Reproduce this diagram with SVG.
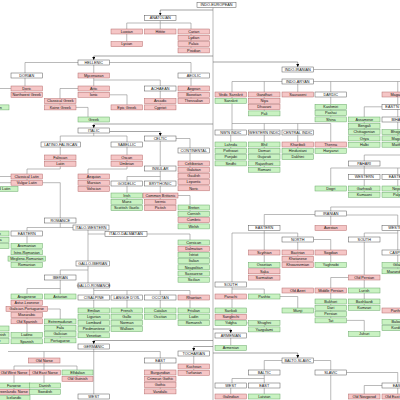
<svg xmlns="http://www.w3.org/2000/svg" width="400" height="400" viewBox="0 0 400 400">
<style>
.w rect{fill:#fff;stroke:#555;stroke-width:.5}
.p rect{fill:#f5c6c6;stroke:#b56b6b;stroke-width:.5}
.g rect{fill:#c9f2c2;stroke:#6aa86a;stroke-width:.5}
text{font-family:"Liberation Sans",Arial,sans-serif;font-size:3.8px;text-anchor:middle;fill:#111}
#edges path{fill:none;stroke:#8c8c8c;stroke-width:.6}
#edges path.a{stroke:#666}
</style>
<defs>
<marker id="ar" viewBox="0 0 6 6" refX="6" refY="3" markerWidth="3" markerHeight="3" markerUnits="userSpaceOnUse" orient="auto"><path d="M0,0 L6,3 L0,6 z" fill="#000"/></marker>
</defs>
<rect width="400" height="400" fill="#fff"/>
<g id="edges">
<path d="M213,7.5 V400"/>
<path class="a" d="M213,10 H160.25 V15.5" marker-end="url(#ar)"/>
<path class="a" d="M213,56 H93.75 V60" marker-end="url(#ar)"/>
<path class="a" d="M213,62 H297.75 V67" marker-end="url(#ar)"/>
<path class="a" d="M213,124 H93.75 V128" marker-end="url(#ar)"/>
<path class="a" d="M109.5,131.5 H160.25 V136" marker-end="url(#ar)"/>
<path class="a" d="M213,329 H230.75 V333" marker-end="url(#ar)"/>
<path class="a" d="M213,340.5 H93.75 V344" marker-end="url(#ar)"/>
<path class="a" d="M213,346.5 H193.75 V351" marker-end="url(#ar)"/>
<path class="a" d="M213,353 H297.75 V358" marker-end="url(#ar)"/>
<path d="M160.25,20.5 V29 M126.75,23 H191 M126.75,23 V41.6 M191,23 V47.9"/>
<path d="M25,62.5 H191 M25,62.5 V92.3 M93.75,65 V92.3 M191,62.5 V98.6 M93.75,80 H160.25 V104.9 M78,88.5 H60 V104.9 M76,107.4 H88 V117 M109.5,94.8 H127 V104.9 M0,88.5 H11"/>
<path d="M313.5,69.5 H400 M232,81.5 H400 M232,81.5 V98.3 M264.25,81.5 V110.9 M297.75,84 V92 M330.75,81.5 V116.9 M397.75,81.5 V117 M382,106.8 H364.25 V142.2 M397.75,122 V142.2"/>
<path d="M232,103.3 V130 M232,123.5 H330.75 M264.25,123.5 V130 M297.75,123.5 V130 M330.75,123.5 V148.3 M230.75,135 V160.9 M264.25,135 V167.2 M297.75,135 V154.6"/>
<path d="M364.25,155 H400 M364.25,155 V161 M330.75,168 H400 M330.75,168 V186 M364.25,166 V192.3 M397.75,168 V192.3"/>
<path d="M330.75,207 H400 M330.75,207 V225.5 M315,214.5 H264.25 V225.5 M346.5,215 H397.75 V268.8"/>
<path d="M264.25,230.5 V275.1 M232,233 H297.75 M232,233 V320.6 M297.75,233 V262.6 M313.5,239.5 H330.75 V262.5 M364.25,233 H397.75 M364.25,233 V275 M348.5,277.5 H330.75 V317.9 M364.25,280 V305.3 M346.5,320.4 H364.25 V331.5"/>
<path d="M232,289 H264.25 V294 M246.5,322.9 H248.5 M264.25,325 V326.9 M280,296.5 H297.75 V308"/>
<path d="M230.75,338 V345.5 M282,360.5 H264.25 V370 M313.5,360.5 H330.75 V370 M264.25,375 V383 M232,378.5 H264.25 M232,378.5 V383 M230.75,388 V394 M264.25,388 V394 M346.5,372.5 H397.75 V383 M330.75,375 V400 M382,385.5 H364.25 V394 M397.75,388 V394"/>
<path d="M193.75,356 V370.3"/>
<path d="M93.75,133 V136 M60.25,136 H127 M60.25,136 V161.2 M127,136 V169 H88 V186.4 M60.25,166 V169 H27 V180.2 M0,176.5 H11 M0,182.7 H11 M42.5,182.7 H60.25 V218"/>
<path d="M176,138.5 H190 V185.8 M160.25,141 V181 M127,176.5 H160.25 M127,176.5 V205.6 M160.25,186 V205.6 M177,195.5 H190 V223.9"/>
<path d="M60.25,223 V227.5 M27,227.5 H73 M27,227.5 V262.4 M88,230 V283 M88,234 H105 M147,234 H190 V277.2 M60.25,270 H88 M60.25,270 V275"/>
<path d="M60.25,280 V294 M27,288.5 H60.25 M27,288.5 V338.8 M47,309 H60.25 V337.9"/>
<path d="M93.75,288 V332.8 M93.75,290.5 H190 M127,290.5 V326.6 M160.25,290.5 V314.2 M190,290.5 V320.4"/>
<path d="M93.75,349 V394 M8,351.5 H160.25 M44,351.5 V358 M160.25,351.5 V388.9 M44,363 V389.3 M14,366 H77 M14,366 V395.6 M77,366 V376.3"/>
</g>
<g id="indo-european" class="w"><rect x="197" y="2.5" width="39" height="5"/><text x="216.5" y="6.25">INDO-EUROPEAN</text></g>
<g id="anatolian" class="w"><rect x="144.5" y="15.5" width="31.5" height="5"/><text x="160.25" y="19.25">ANATOLIAN</text></g>
<g id="luwian" class="p"><rect x="111" y="29" width="31.5" height="5"/><text x="126.75" y="32.75">Luwian</text></g>
<g id="hittite" class="p"><rect x="144.5" y="29" width="31.5" height="5"/><text x="160.25" y="32.75">Hittite</text></g>
<g id="carian" class="p"><rect x="178" y="29" width="31.5" height="5"/><text x="193.75" y="32.75">Carian</text></g>
<g id="lydian" class="p"><rect x="178" y="35.3" width="31.5" height="5"/><text x="193.75" y="39.05">Lydian</text></g>
<g id="palaic" class="p"><rect x="178" y="41.6" width="31.5" height="5"/><text x="193.75" y="45.35">Palaic</text></g>
<g id="pisidian" class="p"><rect x="178" y="47.9" width="31.5" height="5"/><text x="193.75" y="51.65">Pisidian</text></g>
<g id="lycian" class="p"><rect x="111" y="41.6" width="31.5" height="5"/><text x="126.75" y="45.35">Lycian</text></g>
<g id="hellenic" class="w"><rect x="78" y="60" width="31.5" height="5"/><text x="93.75" y="63.75">HELLENIC</text></g>
<g id="dorian" class="w"><rect x="11" y="73" width="31.5" height="5"/><text x="26.75" y="76.75">DORIAN</text></g>
<g id="mycenaean" class="p"><rect x="78" y="73" width="31.5" height="5"/><text x="93.75" y="76.75">Mycenaean</text></g>
<g id="aeolic" class="w"><rect x="178" y="73" width="31.5" height="5"/><text x="193.75" y="76.75">AEOLIC</text></g>
<g id="doric" class="p"><rect x="11" y="86" width="31.5" height="5"/><text x="26.75" y="89.75">Doric</text></g>
<g id="nwgreek" class="p"><rect x="11" y="92.3" width="31.5" height="5"/><text x="26.75" y="96.05">Northwest Greek</text></g>
<g id="attic" class="p"><rect x="78" y="86" width="31.5" height="5"/><text x="93.75" y="89.75">Attic</text></g>
<g id="ionic" class="p"><rect x="78" y="92.3" width="31.5" height="5"/><text x="93.75" y="96.05">Ionic</text></g>
<g id="achaean" class="w"><rect x="144.5" y="86" width="31.5" height="5"/><text x="160.25" y="89.75">ACHAEAN</text></g>
<g id="aegean" class="p"><rect x="178" y="86" width="31.5" height="5"/><text x="193.75" y="89.75">Aegean</text></g>
<g id="boeotian" class="p"><rect x="178" y="92.3" width="31.5" height="5"/><text x="193.75" y="96.05">Boeotian</text></g>
<g id="thessalian" class="p"><rect x="178" y="98.6" width="31.5" height="5"/><text x="193.75" y="102.35">Thessalian</text></g>
<g id="classgreek" class="p"><rect x="44.5" y="98.6" width="31.5" height="5"/><text x="60.25" y="102.35">Classical Greek</text></g>
<g id="koine" class="p"><rect x="44.5" y="104.9" width="31.5" height="5"/><text x="60.25" y="108.65">Koine Greek</text></g>
<g id="arcadic" class="p"><rect x="144.5" y="98.6" width="31.5" height="5"/><text x="160.25" y="102.35">Arcadic</text></g>
<g id="cypriot" class="p"><rect x="144.5" y="104.9" width="31.5" height="5"/><text x="160.25" y="108.65">Cypriot</text></g>
<g id="epic" class="p"><rect x="111" y="104.9" width="31.5" height="5"/><text x="126.75" y="108.65">Epic Greek</text></g>
<g id="greek" class="g"><rect x="78" y="117" width="31.5" height="5"/><text x="93.75" y="120.75">Greek</text></g>
<g id="tsakonian" class="g"><rect x="-22.5" y="104.9" width="31.5" height="5"/><text x="-6.75" y="108.65">Tsakonian</text></g>
<g id="italic" class="w"><rect x="78" y="128" width="31.5" height="5"/><text x="93.75" y="131.75">ITALIC</text></g>
<g id="celtic" class="w"><rect x="144.5" y="136" width="31.5" height="5"/><text x="160.25" y="139.75">CELTIC</text></g>
<g id="latino-faliscan" class="w"><rect x="41" y="142" width="39.5" height="5"/><text x="60.75" y="145.75">LATINO-FALISCAN</text></g>
<g id="sabellic" class="w"><rect x="111" y="142" width="31.5" height="5"/><text x="126.75" y="145.75">SABELLIC</text></g>
<g id="faliscan" class="p"><rect x="44.5" y="155" width="31.5" height="5"/><text x="60.25" y="158.75">Faliscan</text></g>
<g id="latin" class="p"><rect x="44.5" y="161.2" width="31.5" height="5"/><text x="60.25" y="164.95">Latin</text></g>
<g id="oscan" class="p"><rect x="111" y="155" width="31.5" height="5"/><text x="126.75" y="158.75">Oscan</text></g>
<g id="umbrian" class="p"><rect x="111" y="161.2" width="31.5" height="5"/><text x="126.75" y="164.95">Umbrian</text></g>
<g id="classlatin" class="p"><rect x="11" y="174" width="31.5" height="5"/><text x="26.75" y="177.75">Classical Latin</text></g>
<g id="vulglatin" class="p"><rect x="11" y="180.2" width="31.5" height="5"/><text x="26.75" y="183.95">Vulgar Latin</text></g>
<g id="medlatin" class="g"><rect x="-22" y="186.4" width="40" height="5"/><text x="-2" y="190.15">Medieval Latin</text></g>
<g id="aequian" class="p"><rect x="78" y="174" width="31.5" height="5"/><text x="93.75" y="177.75">Aequian</text></g>
<g id="marsian" class="p"><rect x="78" y="180.2" width="31.5" height="5"/><text x="93.75" y="183.95">Marsian</text></g>
<g id="volscian" class="p"><rect x="78" y="186.4" width="31.5" height="5"/><text x="93.75" y="190.15">Volscian</text></g>
<g id="continental" class="w"><rect x="178" y="148" width="31.5" height="5"/><text x="193.75" y="151.75">CONTINENTAL</text></g>
<g id="celtiberian" class="p"><rect x="178" y="161" width="31.5" height="5"/><text x="193.75" y="164.75">Celtiberian</text></g>
<g id="galatian" class="p"><rect x="178" y="167.2" width="31.5" height="5"/><text x="193.75" y="170.95">Galatian</text></g>
<g id="gaulish" class="p"><rect x="178" y="173.4" width="31.5" height="5"/><text x="193.75" y="177.15">Gaulish</text></g>
<g id="lepontic" class="p"><rect x="178" y="179.6" width="31.5" height="5"/><text x="193.75" y="183.35">Lepontic</text></g>
<g id="noric" class="p"><rect x="178" y="185.8" width="31.5" height="5"/><text x="193.75" y="189.55">Noric</text></g>
<g id="insular" class="w"><rect x="144.5" y="166" width="31.5" height="5"/><text x="160.25" y="169.75">INSULAR</text></g>
<g id="goidelic" class="w"><rect x="111" y="181" width="31.5" height="5"/><text x="126.75" y="184.75">GOIDELIC</text></g>
<g id="brythonic" class="w"><rect x="144.5" y="181" width="31.5" height="5"/><text x="160.25" y="184.75">BRYTHONIC</text></g>
<g id="irish" class="g"><rect x="111" y="193" width="31.5" height="5"/><text x="126.75" y="196.75">Irish</text></g>
<g id="manx" class="g"><rect x="111" y="199.3" width="31.5" height="5"/><text x="126.75" y="203.05">Manx</text></g>
<g id="scottish" class="g"><rect x="111" y="205.6" width="31.5" height="5"/><text x="126.75" y="209.35">Scottish Gaelic</text></g>
<g id="combrit" class="p"><rect x="143" y="193" width="35" height="5"/><text x="160.5" y="196.75">Common Brittonic</text></g>
<g id="ivernic" class="p"><rect x="144.5" y="199.3" width="31.5" height="5"/><text x="160.25" y="203.05">Ivernic</text></g>
<g id="pictish" class="p"><rect x="144.5" y="205.6" width="31.5" height="5"/><text x="160.25" y="209.35">Pictish</text></g>
<g id="breton" class="g"><rect x="178" y="205" width="31.5" height="5"/><text x="193.75" y="208.75">Breton</text></g>
<g id="cornish" class="g"><rect x="178" y="211.3" width="31.5" height="5"/><text x="193.75" y="215.05">Cornish</text></g>
<g id="cumbric" class="p"><rect x="178" y="217.6" width="31.5" height="5"/><text x="193.75" y="221.35">Cumbric</text></g>
<g id="welsh" class="g"><rect x="178" y="223.9" width="31.5" height="5"/><text x="193.75" y="227.65">Welsh</text></g>
<g id="romance" class="w"><rect x="44.5" y="218" width="31.5" height="5"/><text x="60.25" y="221.75">ROMANCE</text></g>
<g id="italo-western" class="w"><rect x="73" y="225" width="36" height="5"/><text x="91" y="228.75">ITALO-WESTERN</text></g>
<g id="eastern-romance" class="w"><rect x="11" y="231" width="31.5" height="5"/><text x="26.75" y="234.75">EASTERN</text></g>
<g id="italo-dalmatian" class="w"><rect x="105" y="231.5" width="42" height="5"/><text x="126" y="235.25">ITALO-DALMATIAN</text></g>
<g id="left-a1" class="g"><rect x="-22.5" y="231" width="31.5" height="5"/><text x="-6.75" y="234.75">Arbëresh</text></g>
<g id="left-a2" class="g"><rect x="-22.5" y="237.3" width="31.5" height="5"/><text x="-6.75" y="241.05">Arvanitika</text></g>
<g id="left-a3" class="g"><rect x="-22.5" y="243.6" width="31.5" height="5"/><text x="-6.75" y="247.35">Gheg</text></g>
<g id="aromanian" class="g"><rect x="11" y="243.5" width="31.5" height="5"/><text x="26.75" y="247.25">Aromanian</text></g>
<g id="istro" class="g"><rect x="11" y="249.8" width="31.5" height="5"/><text x="26.75" y="253.55">Istro-Romanian</text></g>
<g id="megleno" class="g"><rect x="8" y="256.1" width="37.5" height="5"/><text x="26.75" y="259.85">Megleno-Romanian</text></g>
<g id="romanian" class="g"><rect x="11" y="262.4" width="31.5" height="5"/><text x="26.75" y="266.15">Romanian</text></g>
<g id="corsican" class="g"><rect x="178" y="240" width="31.5" height="5"/><text x="193.75" y="243.75">Corsican</text></g>
<g id="dalmatian" class="p"><rect x="178" y="246.2" width="31.5" height="5"/><text x="193.75" y="249.95">Dalmatian</text></g>
<g id="istriot" class="g"><rect x="178" y="252.4" width="31.5" height="5"/><text x="193.75" y="256.15">Istriot</text></g>
<g id="italian" class="g"><rect x="178" y="258.6" width="31.5" height="5"/><text x="193.75" y="262.35">Italian</text></g>
<g id="neapolitan" class="g"><rect x="178" y="264.8" width="31.5" height="5"/><text x="193.75" y="268.55">Neapolitan</text></g>
<g id="sassarese" class="g"><rect x="178" y="271" width="31.5" height="5"/><text x="193.75" y="274.75">Sassarese</text></g>
<g id="sicilian" class="g"><rect x="178" y="277.2" width="31.5" height="5"/><text x="193.75" y="280.95">Sicilian</text></g>
<g id="gallo-iberian" class="w"><rect x="76" y="261" width="33.5" height="5"/><text x="92.75" y="264.75">GALLO-IBERIAN</text></g>
<g id="iberian" class="w"><rect x="44.5" y="275" width="31.5" height="5"/><text x="60.25" y="278.75">IBERIAN</text></g>
<g id="gallo-romance" class="w"><rect x="78" y="283" width="31.5" height="5"/><text x="93.75" y="286.75">GALLO-ROMANCE</text></g>
<g id="aragonese" class="g"><rect x="11" y="294" width="31.5" height="5"/><text x="26.75" y="297.75">Aragonese</text></g>
<g id="asturian" class="g"><rect x="44.5" y="294" width="31.5" height="5"/><text x="60.25" y="297.75">Asturian</text></g>
<g id="asturleonese" class="p"><rect x="11" y="300.2" width="31.5" height="5"/><text x="26.75" y="303.95">Astur-Leonese</text></g>
<g id="galport" class="p"><rect x="6" y="306.4" width="41.5" height="5"/><text x="26.75" y="310.15">Galician-Portuguese</text></g>
<g id="mozarabic" class="p"><rect x="11" y="312.6" width="31.5" height="5"/><text x="26.75" y="316.35">Mozarabic</text></g>
<g id="oldspanish" class="p"><rect x="11" y="318.8" width="31.5" height="5"/><text x="26.75" y="322.55">Old Spanish</text></g>
<g id="left-b1" class="g"><rect x="-22.5" y="326" width="31.5" height="5"/><text x="-6.75" y="329.75">Arpitan</text></g>
<g id="left-b2" class="g"><rect x="-22.5" y="332.3" width="31.5" height="5"/><text x="-6.75" y="336.05">Judeo-Spanish</text></g>
<g id="left-b3" class="g"><rect x="-22.5" y="338.6" width="31.5" height="5"/><text x="-6.75" y="342.35">Leonese</text></g>
<g id="ladino" class="g"><rect x="11" y="332.5" width="31.5" height="5"/><text x="26.75" y="336.25">Ladino</text></g>
<g id="spanish" class="g"><rect x="11" y="338.8" width="31.5" height="5"/><text x="26.75" y="342.55">Spanish</text></g>
<g id="extremaduran" class="g"><rect x="44.5" y="319" width="31.5" height="5"/><text x="60.25" y="322.75">Extremaduran</text></g>
<g id="fala" class="g"><rect x="44.5" y="325.3" width="31.5" height="5"/><text x="60.25" y="329.05">Fala</text></g>
<g id="galician" class="g"><rect x="44.5" y="331.6" width="31.5" height="5"/><text x="60.25" y="335.35">Galician</text></g>
<g id="portuguese" class="g"><rect x="44.5" y="337.9" width="31.5" height="5"/><text x="60.25" y="341.65">Portuguese</text></g>
<g id="cisalpine" class="w"><rect x="78" y="295" width="31.5" height="5"/><text x="93.75" y="298.75">CISALPINE</text></g>
<g id="langue-doil" class="w"><rect x="111" y="295" width="31.5" height="5"/><text x="126.75" y="298.75">LANGUE D'OÏL</text></g>
<g id="occitan-group" class="w"><rect x="144.5" y="295" width="31.5" height="5"/><text x="160.25" y="298.75">OCCITAN</text></g>
<g id="rhaetian" class="p"><rect x="178" y="295" width="31.5" height="5"/><text x="193.75" y="298.75">Rhaetian</text></g>
<g id="emilian" class="g"><rect x="78" y="308" width="31.5" height="5"/><text x="93.75" y="311.75">Emilian</text></g>
<g id="ligurian" class="g"><rect x="78" y="314.2" width="31.5" height="5"/><text x="93.75" y="317.95">Ligurian</text></g>
<g id="lombard" class="g"><rect x="78" y="320.4" width="31.5" height="5"/><text x="93.75" y="324.15">Lombard</text></g>
<g id="piedmontese" class="g"><rect x="78" y="326.6" width="31.5" height="5"/><text x="93.75" y="330.35">Piedmontese</text></g>
<g id="venetian" class="g"><rect x="78" y="332.8" width="31.5" height="5"/><text x="93.75" y="336.55">Venetian</text></g>
<g id="french" class="g"><rect x="111" y="308" width="31.5" height="5"/><text x="126.75" y="311.75">French</text></g>
<g id="gallo" class="g"><rect x="111" y="314.2" width="31.5" height="5"/><text x="126.75" y="317.95">Gallo</text></g>
<g id="norman" class="g"><rect x="111" y="320.4" width="31.5" height="5"/><text x="126.75" y="324.15">Norman</text></g>
<g id="walloon" class="g"><rect x="111" y="326.6" width="31.5" height="5"/><text x="126.75" y="330.35">Walloon</text></g>
<g id="catalan" class="g"><rect x="144.5" y="308" width="31.5" height="5"/><text x="160.25" y="311.75">Catalan</text></g>
<g id="occitan" class="g"><rect x="144.5" y="314.2" width="31.5" height="5"/><text x="160.25" y="317.95">Occitan</text></g>
<g id="friulian" class="g"><rect x="178" y="308" width="31.5" height="5"/><text x="193.75" y="311.75">Friulian</text></g>
<g id="ladin" class="g"><rect x="178" y="314.2" width="31.5" height="5"/><text x="193.75" y="317.95">Ladin</text></g>
<g id="romansh" class="g"><rect x="178" y="320.4" width="31.5" height="5"/><text x="193.75" y="324.15">Romansh</text></g>
<g id="germanic" class="w"><rect x="78" y="344" width="31.5" height="5"/><text x="93.75" y="347.75">GERMANIC</text></g>
<g id="oldnorse" class="p"><rect x="28.5" y="358" width="31.5" height="5"/><text x="44.25" y="361.75">Old Norse</text></g>
<g id="oldwestnorse" class="p"><rect x="-2" y="370" width="32" height="5"/><text x="14" y="373.75">Old West Norse</text></g>
<g id="oldeastnorse" class="p"><rect x="29.5" y="370" width="31" height="5"/><text x="45" y="373.75">Old East Norse</text></g>
<g id="elfdalian" class="g"><rect x="62" y="370" width="31" height="5"/><text x="77.5" y="373.75">Elfdalian</text></g>
<g id="oldgutnish" class="p"><rect x="62" y="376.3" width="31" height="5"/><text x="77.5" y="380.05">Old Gutnish</text></g>
<g id="faroese" class="g"><rect x="-2" y="383" width="32" height="5"/><text x="14" y="386.75">Faroese</text></g>
<g id="grnorse" class="p"><rect x="-6" y="389.3" width="36" height="5"/><text x="12" y="393.05">Greenlandic Norse</text></g>
<g id="icelandic" class="g"><rect x="-2" y="395.6" width="32" height="5"/><text x="14" y="399.35">Icelandic</text></g>
<g id="danish" class="g"><rect x="29.5" y="383" width="31" height="5"/><text x="45" y="386.75">Danish</text></g>
<g id="swedish" class="g"><rect x="29.5" y="389.3" width="31" height="5"/><text x="45" y="393.05">Swedish</text></g>
<g id="east-germanic" class="w"><rect x="144.5" y="358" width="31.5" height="5"/><text x="160.25" y="361.75">EAST</text></g>
<g id="burgundian" class="p"><rect x="144.5" y="370" width="31.5" height="5"/><text x="160.25" y="373.75">Burgundian</text></g>
<g id="crimgothic" class="p"><rect x="144.5" y="376.3" width="31.5" height="5"/><text x="160.25" y="380.05">Crimean Gothic</text></g>
<g id="gothic" class="p"><rect x="144.5" y="382.6" width="31.5" height="5"/><text x="160.25" y="386.35">Gothic</text></g>
<g id="vandalic" class="p"><rect x="144.5" y="388.9" width="31.5" height="5"/><text x="160.25" y="392.65">Vandalic</text></g>
<g id="west-germanic" class="w"><rect x="78" y="394" width="31.5" height="5"/><text x="93.75" y="397.75">WEST</text></g>
<g id="tocharian" class="w"><rect x="178" y="351" width="31.5" height="5"/><text x="193.75" y="354.75">TOCHARIAN</text></g>
<g id="kuchean" class="p"><rect x="178" y="364" width="31.5" height="5"/><text x="193.75" y="367.75">Kuchean</text></g>
<g id="turfanian" class="p"><rect x="178" y="370.3" width="31.5" height="5"/><text x="193.75" y="374.05">Turfanian</text></g>
<g id="indo-iranian" class="w"><rect x="282" y="67" width="31.5" height="5"/><text x="297.75" y="70.75">INDO-IRANIAN</text></g>
<g id="indo-aryan" class="w"><rect x="282" y="79" width="31.5" height="5"/><text x="297.75" y="82.75">INDO-ARYAN</text></g>
<g id="vedic" class="p"><rect x="215" y="92" width="31.5" height="5"/><text x="230.75" y="95.75">Vedic Sanskrit</text></g>
<g id="sanskrit" class="g"><rect x="215" y="98.3" width="31.5" height="5"/><text x="230.75" y="102.05">Sanskrit</text></g>
<g id="gandhari" class="p"><rect x="248.5" y="92" width="31.5" height="5"/><text x="264.25" y="95.75">Gandhari</text></g>
<g id="niya" class="p"><rect x="248.5" y="98.3" width="31.5" height="5"/><text x="264.25" y="102.05">Niya</text></g>
<g id="dhavani" class="p"><rect x="248.5" y="104.6" width="31.5" height="5"/><text x="264.25" y="108.35">Dhavani</text></g>
<g id="pali" class="g"><rect x="248.5" y="110.9" width="31.5" height="5"/><text x="264.25" y="114.65">Pali</text></g>
<g id="sauraseni" class="p"><rect x="282" y="92" width="31.5" height="5"/><text x="297.75" y="95.75">Sauraseni</text></g>
<g id="dardic" class="w"><rect x="315" y="92" width="31.5" height="5"/><text x="330.75" y="95.75">DARDIC</text></g>
<g id="magadhi" class="p"><rect x="382" y="92" width="31.5" height="5"/><text x="397.75" y="95.75">Magadhi</text></g>
<g id="kashmiri" class="g"><rect x="315" y="104.3" width="31.5" height="5"/><text x="330.75" y="108.05">Kashmiri</text></g>
<g id="pashai" class="g"><rect x="315" y="110.6" width="31.5" height="5"/><text x="330.75" y="114.35">Pashai</text></g>
<g id="shina" class="g"><rect x="315" y="116.9" width="31.5" height="5"/><text x="330.75" y="120.65">Shina</text></g>
<g id="eastern-indic" class="w"><rect x="382" y="104.3" width="31.5" height="5"/><text x="397.75" y="108.05">EAST'N INDIC</text></g>
<g id="bihari" class="w"><rect x="382" y="117" width="31.5" height="5"/><text x="397.75" y="120.75">BIHARI</text></g>
<g id="assamese" class="g"><rect x="348.5" y="117" width="31.5" height="5"/><text x="364.25" y="120.75">Assamese</text></g>
<g id="bengali" class="g"><rect x="348.5" y="123.3" width="31.5" height="5"/><text x="364.25" y="127.05">Bengali</text></g>
<g id="chittagonian" class="g"><rect x="348.5" y="129.6" width="31.5" height="5"/><text x="364.25" y="133.35">Chittagonian</text></g>
<g id="oriya" class="g"><rect x="348.5" y="135.9" width="31.5" height="5"/><text x="364.25" y="139.65">Oriya</text></g>
<g id="halbi" class="g"><rect x="348.5" y="142.2" width="31.5" height="5"/><text x="364.25" y="145.95">Halbi</text></g>
<g id="bhojpuri" class="g"><rect x="382" y="129.6" width="31.5" height="5"/><text x="397.75" y="133.35">Bhojpuri</text></g>
<g id="magahi" class="g"><rect x="382" y="135.9" width="31.5" height="5"/><text x="397.75" y="139.65">Magahi</text></g>
<g id="maithili" class="g"><rect x="382" y="142.2" width="31.5" height="5"/><text x="397.75" y="145.95">Maithili</text></g>
<g id="nw-indic" class="w"><rect x="215" y="130" width="31.5" height="5"/><text x="230.75" y="133.75">NW'N INDIC</text></g>
<g id="western-indic" class="w"><rect x="248.5" y="130" width="31.5" height="5"/><text x="264.25" y="133.75">WESTERN INDIC</text></g>
<g id="central-indic" class="w"><rect x="282" y="130" width="31.5" height="5"/><text x="297.75" y="133.75">CENTRAL INDIC</text></g>
<g id="lahnda" class="g"><rect x="215" y="142" width="31.5" height="5"/><text x="230.75" y="145.75">Lahnda</text></g>
<g id="pothwari" class="g"><rect x="215" y="148.3" width="31.5" height="5"/><text x="230.75" y="152.05">Pothwari</text></g>
<g id="punjabi" class="g"><rect x="215" y="154.6" width="31.5" height="5"/><text x="230.75" y="158.35">Punjabi</text></g>
<g id="sindhi" class="g"><rect x="215" y="160.9" width="31.5" height="5"/><text x="230.75" y="164.65">Sindhi</text></g>
<g id="bhil" class="g"><rect x="248.5" y="142" width="31.5" height="5"/><text x="264.25" y="145.75">Bhil</text></g>
<g id="domari" class="g"><rect x="248.5" y="148.3" width="31.5" height="5"/><text x="264.25" y="152.05">Domari</text></g>
<g id="gujarati" class="g"><rect x="248.5" y="154.6" width="31.5" height="5"/><text x="264.25" y="158.35">Gujarati</text></g>
<g id="rajasthani" class="g"><rect x="248.5" y="160.9" width="31.5" height="5"/><text x="264.25" y="164.65">Rajasthani</text></g>
<g id="romani" class="g"><rect x="248.5" y="167.2" width="31.5" height="5"/><text x="264.25" y="170.95">Romani</text></g>
<g id="khariboli" class="p"><rect x="282" y="142" width="31.5" height="5"/><text x="297.75" y="145.75">Khariboli</text></g>
<g id="hindustani" class="g"><rect x="282" y="148.3" width="31.5" height="5"/><text x="297.75" y="152.05">Hindustani</text></g>
<g id="dakhini" class="g"><rect x="282" y="154.6" width="31.5" height="5"/><text x="297.75" y="158.35">Dakhini</text></g>
<g id="thenna" class="p"><rect x="315" y="142" width="31.5" height="5"/><text x="330.75" y="145.75">Thenna</text></g>
<g id="haryanvi" class="g"><rect x="315" y="148.3" width="31.5" height="5"/><text x="330.75" y="152.05">Haryanvi</text></g>
<g id="pahari" class="w"><rect x="348.5" y="161" width="31.5" height="5"/><text x="364.25" y="164.75">PAHARI</text></g>
<g id="western-pahari" class="w"><rect x="348.5" y="174.5" width="31.5" height="5"/><text x="364.25" y="178.25">WESTERN</text></g>
<g id="eastern-pahari" class="w"><rect x="382" y="174.5" width="31.5" height="5"/><text x="397.75" y="178.25">EASTERN</text></g>
<g id="dogri" class="g"><rect x="315" y="186" width="31.5" height="5"/><text x="330.75" y="189.75">Dogri</text></g>
<g id="garhwali" class="g"><rect x="348.5" y="186" width="31.5" height="5"/><text x="364.25" y="189.75">Garhwali</text></g>
<g id="kumaoni" class="g"><rect x="348.5" y="192.3" width="31.5" height="5"/><text x="364.25" y="196.05">Kumaoni</text></g>
<g id="nepali" class="g"><rect x="382" y="186" width="31.5" height="5"/><text x="397.75" y="189.75">Nepali</text></g>
<g id="palpa" class="g"><rect x="382" y="192.3" width="31.5" height="5"/><text x="397.75" y="196.05">Palpa</text></g>
<g id="iranian" class="w"><rect x="315" y="211" width="31.5" height="5"/><text x="330.75" y="214.75">IRANIAN</text></g>
<g id="avestan" class="p"><rect x="315" y="225.5" width="31.5" height="5"/><text x="330.75" y="229.25">Avestan</text></g>
<g id="eastern-iranian" class="w"><rect x="248.5" y="225.5" width="31.5" height="5"/><text x="264.25" y="229.25">EASTERN</text></g>
<g id="western-iranian" class="w"><rect x="382" y="225.5" width="31.5" height="5"/><text x="397.75" y="229.25">WESTERN</text></g>
<g id="north-east-iranian" class="w"><rect x="282" y="237" width="31.5" height="5"/><text x="297.75" y="240.75">NORTH</text></g>
<g id="south-west-iranian" class="w"><rect x="348.5" y="237" width="31.5" height="5"/><text x="364.25" y="240.75">SOUTH</text></g>
<g id="scythian" class="p"><rect x="248.5" y="250" width="31.5" height="5"/><text x="264.25" y="253.75">Scythian</text></g>
<g id="ossetian" class="g"><rect x="248.5" y="262.5" width="31.5" height="5"/><text x="264.25" y="266.25">Ossetian</text></g>
<g id="saka" class="p"><rect x="248.5" y="268.8" width="31.5" height="5"/><text x="264.25" y="272.55">Saka</text></g>
<g id="sarmatian" class="p"><rect x="248.5" y="275.1" width="31.5" height="5"/><text x="264.25" y="278.85">Sarmatian</text></g>
<g id="bactrian" class="p"><rect x="282" y="250" width="31.5" height="5"/><text x="297.75" y="253.75">Bactrian</text></g>
<g id="khotanese" class="p"><rect x="282" y="256.3" width="31.5" height="5"/><text x="297.75" y="260.05">Khotanese</text></g>
<g id="khwarezmian" class="p"><rect x="282" y="262.6" width="31.5" height="5"/><text x="297.75" y="266.35">Khwarezmian</text></g>
<g id="sogdian" class="p"><rect x="315" y="250" width="31.5" height="5"/><text x="330.75" y="253.75">Sogdian</text></g>
<g id="yaghnobi" class="g"><rect x="315" y="262.5" width="31.5" height="5"/><text x="330.75" y="266.25">Yaghnobi</text></g>
<g id="caspian" class="w"><rect x="382" y="250" width="31.5" height="5"/><text x="397.75" y="253.75">CASPIAN</text></g>
<g id="gilaki" class="g"><rect x="382" y="262.5" width="31.5" height="5"/><text x="397.75" y="266.25">Gilaki</text></g>
<g id="mazandarani" class="g"><rect x="382" y="268.8" width="31.5" height="5"/><text x="397.75" y="272.55">Mazandarani</text></g>
<g id="south-east-iranian" class="w"><rect x="215" y="282" width="31.5" height="5"/><text x="230.75" y="285.75">SOUTH</text></g>
<g id="parachi" class="p"><rect x="215" y="294" width="31.5" height="5"/><text x="230.75" y="297.75">Parachi</text></g>
<g id="pashto" class="g"><rect x="248.5" y="294" width="31.5" height="5"/><text x="264.25" y="297.75">Pashto</text></g>
<g id="sarikoli" class="g"><rect x="215" y="308" width="31.5" height="5"/><text x="230.75" y="311.75">Sarikoli</text></g>
<g id="sanglechi" class="p"><rect x="215" y="314.3" width="31.5" height="5"/><text x="230.75" y="318.05">Sanglechi</text></g>
<g id="yidgha" class="g"><rect x="215" y="320.6" width="31.5" height="5"/><text x="230.75" y="324.35">Yidgha</text></g>
<g id="shughni" class="g"><rect x="248.5" y="320.6" width="31.5" height="5"/><text x="264.25" y="324.35">Shughni</text></g>
<g id="yazgulami" class="g"><rect x="248.5" y="326.9" width="31.5" height="5"/><text x="264.25" y="330.65">Yazgulami</text></g>
<g id="munji" class="g"><rect x="282" y="308" width="31.5" height="5"/><text x="297.75" y="311.75">Munji</text></g>
<g id="oldpersian" class="p"><rect x="348.5" y="275" width="31.5" height="5"/><text x="364.25" y="278.75">Old Persian</text></g>
<g id="midpersian" class="p"><rect x="315" y="288" width="31.5" height="5"/><text x="330.75" y="291.75">Middle Persian</text></g>
<g id="lurish" class="g"><rect x="348.5" y="288" width="31.5" height="5"/><text x="364.25" y="291.75">Lurish</text></g>
<g id="oldazeri" class="p"><rect x="282" y="288" width="31.5" height="5"/><text x="297.75" y="291.75">Old Azeri</text></g>
<g id="bukhori" class="g"><rect x="315" y="299" width="31.5" height="5"/><text x="330.75" y="302.75">Bukhori</text></g>
<g id="dari" class="g"><rect x="315" y="305.3" width="31.5" height="5"/><text x="330.75" y="309.05">Dari</text></g>
<g id="persian" class="g"><rect x="315" y="311.6" width="31.5" height="5"/><text x="330.75" y="315.35">Persian</text></g>
<g id="tat" class="g"><rect x="315" y="317.9" width="31.5" height="5"/><text x="330.75" y="321.65">Tat</text></g>
<g id="juhuri" class="g"><rect x="348.5" y="331.5" width="31.5" height="5"/><text x="364.25" y="335.25">Juhuri</text></g>
<g id="bashkardi" class="g"><rect x="348.5" y="299" width="31.5" height="5"/><text x="364.25" y="302.75">Bashkardi</text></g>
<g id="kumzari" class="g"><rect x="348.5" y="305.3" width="31.5" height="5"/><text x="364.25" y="309.05">Kumzari</text></g>
<g id="parthian" class="p"><rect x="382" y="308" width="31.5" height="5"/><text x="397.75" y="311.75">Parthian</text></g>
<g id="balochi" class="g"><rect x="382" y="319.3" width="31.5" height="5"/><text x="397.75" y="323.05">Balochi</text></g>
<g id="kurdish" class="g"><rect x="382" y="325.6" width="31.5" height="5"/><text x="397.75" y="329.35">Kurdish</text></g>
<g id="armenian-group" class="w"><rect x="215" y="333" width="31.5" height="5"/><text x="230.75" y="336.75">ARMENIAN</text></g>
<g id="armenian" class="g"><rect x="215" y="345.5" width="31.5" height="5"/><text x="230.75" y="349.25">Armenian</text></g>
<g id="balto-slavic" class="w"><rect x="282" y="358" width="31.5" height="5"/><text x="297.75" y="361.75">BALTO-SLAVIC</text></g>
<g id="baltic" class="w"><rect x="248.5" y="370" width="31.5" height="5"/><text x="264.25" y="373.75">BALTIC</text></g>
<g id="slavic" class="w"><rect x="315" y="370" width="31.5" height="5"/><text x="330.75" y="373.75">SLAVIC</text></g>
<g id="west-baltic" class="w"><rect x="215" y="383" width="31.5" height="5"/><text x="230.75" y="386.75">WEST</text></g>
<g id="east-baltic" class="w"><rect x="248.5" y="383" width="31.5" height="5"/><text x="264.25" y="386.75">EAST</text></g>
<g id="galindian" class="p"><rect x="215" y="394" width="31.5" height="5"/><text x="230.75" y="397.75">Galindian</text></g>
<g id="latvian" class="g"><rect x="248.5" y="394" width="31.5" height="5"/><text x="264.25" y="397.75">Latvian</text></g>
<g id="east-slavic" class="w"><rect x="382" y="383" width="31.5" height="5"/><text x="397.75" y="386.75">EAST</text></g>
<g id="oldnovgorod" class="p"><rect x="348.5" y="394" width="31.5" height="5"/><text x="364.25" y="397.75">Old Novgorod</text></g>
<g id="oldeastslavic" class="p"><rect x="382" y="394" width="31.5" height="5"/><text x="397.75" y="397.75">Old East Slavic</text></g>
</svg>
